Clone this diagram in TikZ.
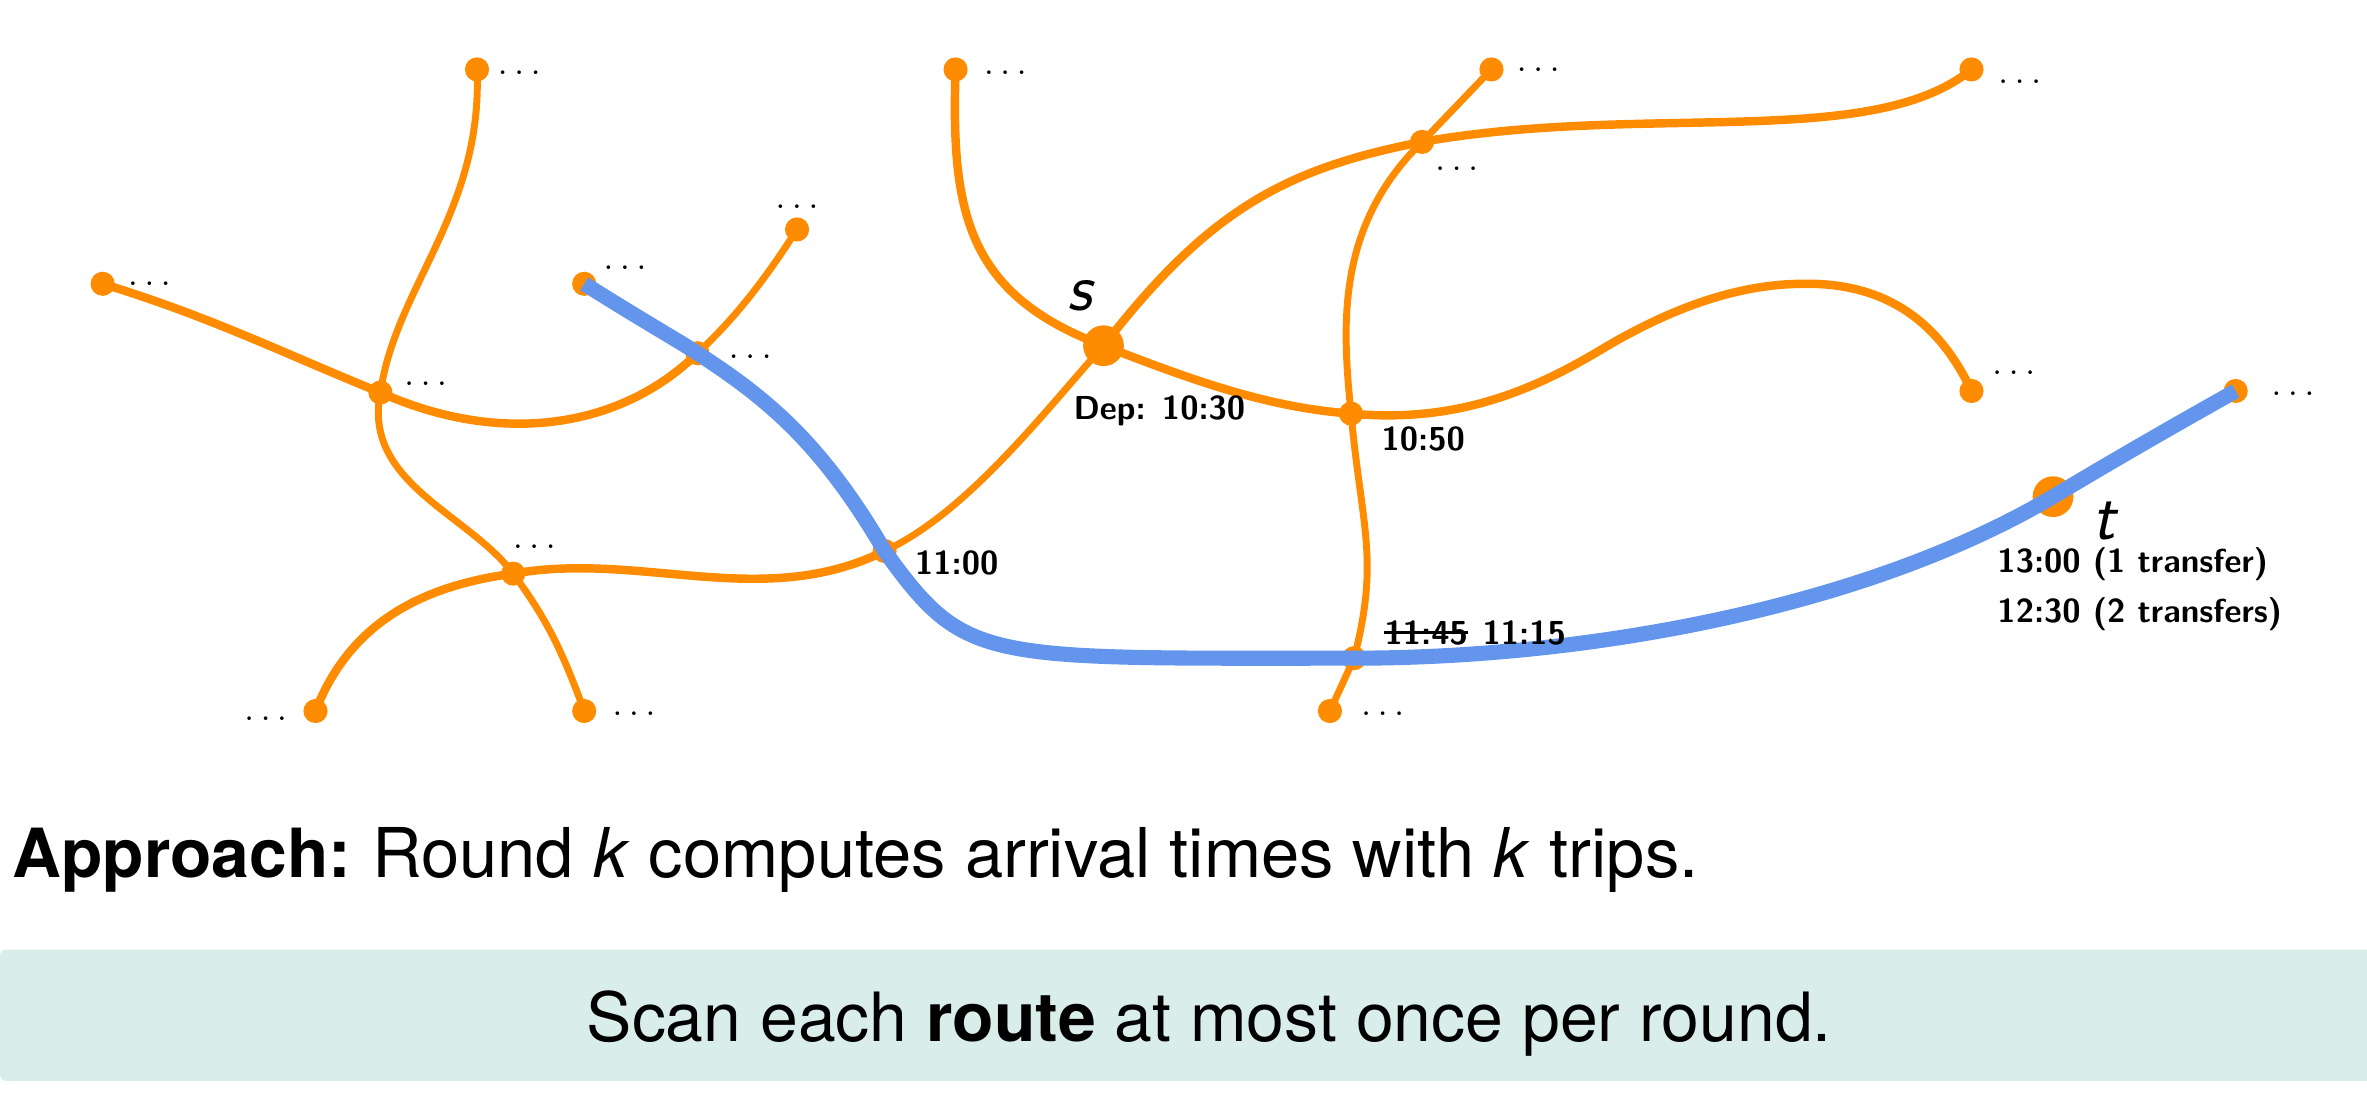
\documentclass[tikz,border=0pt]{standalone}
\usepackage{fontspec}
\newfontfamily\heros{TeX Gyre Heros}
\definecolor{routeor}{HTML}{FF8C00}
\definecolor{routebl}{HTML}{6495ED}
\definecolor{bandcol}{HTML}{D9EEEA}
\tikzset{
  stopdot/.style={circle,fill=routeor,inner sep=0pt,minimum size=16pt},
  bigdot/.style={circle,fill=routeor,inner sep=0pt,minimum size=27pt},
  route/.style={draw=routeor,line width=5.6pt},
  thinroute/.style={draw=routeor,line width=4.6pt},
  bluetrip/.style={draw=routebl,line width=10pt},
  dotlab/.style={inner sep=0pt,font=\fontsize{28}{30}\selectfont},
  timelab/.style={inner sep=0pt,anchor=west,font=\sffamily\bfseries\fontsize{22}{26}\selectfont},
  symlab/.style={inner sep=0pt,font=\sffamily\itshape\fontsize{45}{48}\selectfont},
  maintext/.style={inner sep=0pt,font=\heros\fontsize{45}{50}\selectfont}
}
\begin{document}
\begin{tikzpicture}[x=1pt,y=-1pt]
\path[use as bounding box] (0,0) rectangle (1568,728);
\fill[bandcol,rounded corners=4pt] (0,629) rectangle (1590,716);
\node[stopdot] (a) at (316,46) {};
\node[stopdot] (b) at (68,188) {};
\node[stopdot] (c) at (387,188) {};
\node[stopdot] (d) at (528,152) {};
\node[stopdot] (e) at (252,260) {};
\node[stopdot] (f) at (462,234) {};
\node[stopdot] (g) at (340,380) {};
\node[stopdot] (h) at (209,471) {};
\node[stopdot] (i) at (387,471) {};
\node[stopdot] (j) at (586,365) {};
\node[stopdot] (k) at (633,46) {};
\node[bigdot] (s) at (731,229) {};
\node[stopdot] (l) at (988,46) {};
\node[stopdot] (m) at (1306,46) {};
\node[stopdot] (n) at (942,94) {};
\node[stopdot] (o) at (895,274) {};
\node[stopdot] (p) at (1306,259) {};
\node[stopdot] (q) at (1481,259) {};
\node[bigdot] (t) at (1360,329) {};
\node[stopdot] (u) at (897,436) {};
\node[stopdot] (v) at (881,471) {};
% orange routes
\draw[thinroute] (a.center) .. controls (320,140) and (262,190) .. (e.center)
  .. controls (240,320) and (310,340) .. (g.center)
  .. controls (362,410) and (372,430) .. (i.center);
\draw[route] (b.center) .. controls (140,210) and (190,235) .. (e.center)
  .. controls (330,295) and (410,285) .. (f.center);
\draw[thinroute] (f.center) .. controls (490,208) and (510,180) .. (d.center);
\draw[route] (h.center) .. controls (232,412) and (280,388) .. (g.center)
  .. controls (425,365) and (505,405) .. (j.center);
\draw[thinroute] (j.center) .. controls (640,340) and (690,275) .. (s.center);
\draw[route] (s.center) .. controls (800,140) and (850,112) .. (n.center)
  .. controls (1090,68) and (1240,100) .. (m.center);
\draw[route] (k.center) .. controls (630,140) and (640,195) .. (s.center)
  .. controls (790,252) and (840,270) .. (o.center)
  .. controls (960,280) and (1010,262) .. (1060,232)
  .. controls (1105,205) and (1150,188) .. (1195,188)
  .. controls (1260,187) and (1290,225) .. (p.center);
\draw[thinroute] (l.center) -- (n.center)
  .. controls (885,150) and (889,215) .. (o.center)
  .. controls (902,350) and (914,370) .. (u.center) -- (v.center);
% blue trip
\draw[bluetrip] (c.center) .. controls (430,215) and (450,226) .. (f.center)
  .. controls (510,265) and (545,295) .. (j.center)
  .. controls (640,440) and (650,436) .. (897,436)
  .. controls (1050,436) and (1235,403) .. (t.center)
  .. controls (1400,305) and (1440,282) .. (q.center);
% ellipses
\node[dotlab] (da) at (344,48) {$\ldots$};
\node[dotlab] (db) at (99,188) {$\ldots$};
\node[dotlab] (dc) at (414,177) {$\ldots$};
\node[dotlab] (dd) at (528,137) {$\ldots$};
\node[dotlab] (de) at (282,254) {$\ldots$};
\node[dotlab] (df) at (497,236) {$\ldots$};
\node[dotlab] (dg) at (354,362) {$\ldots$};
\node[dotlab] (dh) at (176,476) {$\ldots$};
\node[dotlab] (di) at (420,473) {$\ldots$};
\node[dotlab] (dk) at (666,48) {$\ldots$};
\node[dotlab] (dl) at (1019,46) {$\ldots$};
\node[dotlab] (dm) at (1338,54) {$\ldots$};
\node[dotlab] (dn) at (965,112) {$\ldots$};
\node[dotlab] (dp) at (1334,247) {$\ldots$};
\node[dotlab] (dq) at (1519,261) {$\ldots$};
\node[dotlab] (dv) at (916,473) {$\ldots$};
% labels
\node[symlab] (ls) at (715,196) {s};
\node[symlab] (lt) at (1394,345) {t};
\node[timelab] (dep) at (711,272) {Dep: 10:30};
\node[timelab] (t1050) at (915,291) {10:50};
\node[timelab] (t1100) at (606,373) {11:00};
\node[timelab] (told) at (917,419) {11:45};
\node[timelab,anchor=west] (tnew) at (982,419) {11:15};
\draw[line width=1.8pt] (told.west) -- (told.east);
\node[timelab] (t1300) at (1323,374) {13:00 (1 transfer)};
\node[timelab] (t1230) at (1323,407) {12:30 (2 transfers)};
% text
\node[maintext,anchor=base west,font=\heros\fontsize{45.5}{50}\selectfont] (appr) at (8,581) {{\fontsize{44.9}{50}\selectfont\textbf{Approach:}}\hspace{14pt}Round \textit{k} computes arrival times with \textit{k} trips.};
\node[maintext,anchor=base] (scan) at (801,690) {Scan each \textbf{route} at most once per round.};
\end{tikzpicture}
\end{document}
